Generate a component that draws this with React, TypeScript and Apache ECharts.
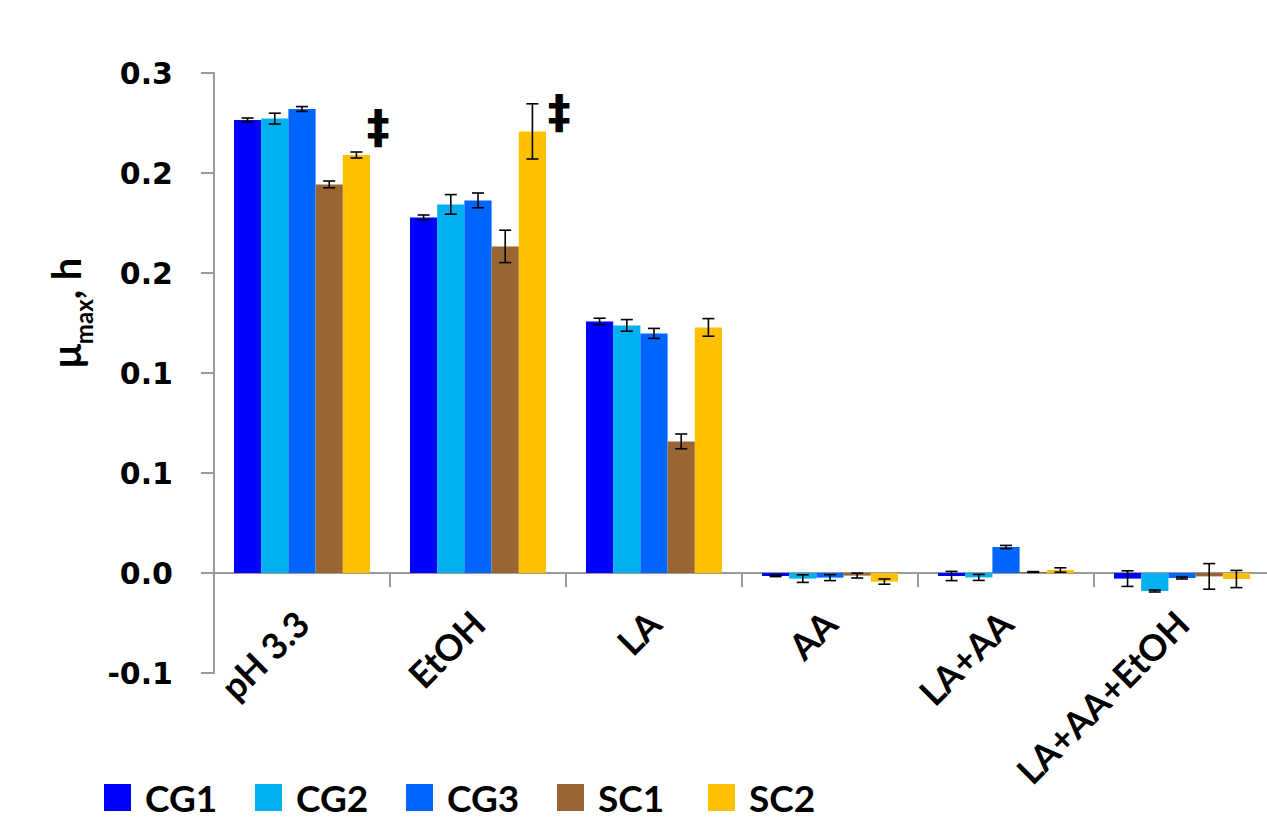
import React, { useEffect, useRef } from "react";
import * as echarts from "echarts";

const categories = ["pH 3.3", "EtOH", "LA", "AA", "LA+AA", "LA+AA+EtOH"];
const seriesNames = ["CG1", "CG2", "CG3", "SC1", "SC2"];
const colors = ["#0000FF", "#00B0F0", "#0066FF", "#996633", "#FFC000"];

const cg1 = [0.2265, 0.1778, 0.1258, -0.0015, -0.0015, -0.0028];
const cg1Err = [0.0010, 0.0012, 0.0016, 0.0003, 0.0023, 0.0039];
const cg2 = [0.2272, 0.1843, 0.1238, -0.0028, -0.0022, -0.0090];
const cg2Err = [0.0027, 0.0049, 0.0029, 0.0019, 0.0015, 0.0005];
const cg3 = [0.2320, 0.1863, 0.1198, -0.0023, 0.0130, -0.0025];
const cg3Err = [0.0012, 0.0037, 0.0025, 0.0015, 0.0008, 0.0005];
const sc1 = [0.1943, 0.1633, 0.0658, -0.0013, 0.0005, -0.0017];
const sc1Err = [0.0017, 0.0081, 0.0037, 0.0012, 0.0002, 0.0064];
const sc2 = [0.2090, 0.2208, 0.1228, -0.0043, 0.0015, -0.0030];
const sc2Err = [0.0015, 0.0138, 0.0044, 0.0013, 0.0011, 0.0043];

// tick labels as printed (values -0.05 .. 0.25 rounded to one decimal)
const yTickLabels = ["-0.1", "0.0", "0.1", "0.1", "0.2", "0.2", "0.3"];
const markedSC2 = [0, 1]; // categories flagged with ‡

const values = [cg1, cg2, cg3, sc1, sc2];
const errors = [cg1Err, cg2Err, cg3Err, sc1Err, sc2Err];

const GAP = 0.227;
const FONT = "Lato";

export default function App() {
  const ref = useRef<HTMLDivElement>(null);
  useEffect(() => {
    document.body.style.margin = "0";
    const chart = echarts.init(ref.current!, null, { renderer: "svg" });

    const barSeries = values.map((vals, si) => ({
      name: seriesNames[si],
      type: "bar",
      barGap: "0%",
      barCategoryGap: GAP * 100 + "%",
      itemStyle: { color: colors[si] },
      data: vals.map((v, ci) => {
        if (si === 4 && markedSC2.includes(ci)) {
          return {
            value: v,
            label: {
              show: true,
              formatter: "\u2021",
              position: ci === 0 ? [24, -51] : [29, -42],
              align: "left",
              verticalAlign: "top",
              fontSize: 46,
              fontWeight: "bold",
              fontFamily: "DejaVu Sans",
              color: "#000",
            },
          };
        }
        return v;
      }),
    }));

    const errData: number[][] = [];
    values.forEach((vals, si) => {
      vals.forEach((v, ci) => {
        errData.push([ci, v, errors[si][ci], si]);
      });
    });

    const errSeries = {
      type: "custom",
      name: "err",
      z: 10,
      encode: { x: 0, y: 1 },
      data: errData,
      renderItem: (params: any, api: any) => {
        const ci = api.value(0);
        const v = api.value(1);
        const e = api.value(2);
        const si = api.value(3);
        const band = api.size([1, 0])[0];
        const bw = (band * (1 - GAP)) / 5;
        const c = api.coord([ci, v]);
        const x = c[0] + (si - 2) * bw;
        const yT = api.coord([ci, v + e])[1];
        const yB = api.coord([ci, v - e])[1];
        const hw = 6;
        const style = { stroke: "#000", lineWidth: 1.6 };
        return {
          type: "group",
          children: [
            { type: "line", shape: { x1: x, y1: yT, x2: x, y2: yB }, style },
            { type: "line", shape: { x1: x - hw, y1: yT, x2: x + hw, y2: yT }, style },
            { type: "line", shape: { x1: x - hw, y1: yB, x2: x + hw, y2: yB }, style },
          ],
        };
      },
    };

    chart.setOption({
      animation: false,
      grid: { left: 214, top: 73, width: 1056, height: 600, containLabel: false, outerBoundsMode: "none" },
      legend: {
        data: seriesNames,
        left: 104,
        top: 779,
        icon: "rect",
        itemWidth: 27,
        itemHeight: 27,
        itemGap: 26,
        padding: 0,
        textStyle: {
          fontSize: 37,
          lineHeight: 27,
          height: 27,
          fontWeight: "bold",
          fontFamily: FONT,
          color: "#000",
          width: 84,
          padding: [0, 0, 0, 9],
        },
      },
      xAxis: {
        type: "category",
        data: categories,
        axisLine: { onZero: true, lineStyle: { color: "#9a9a9a", width: 2 } },
        axisTick: { show: true, length: 14, inside: false, lineStyle: { color: "#9a9a9a", width: 2 } },
        axisLabel: {
          rotate: 45,
          margin: -56,
          interval: 0,
          fontSize: 36,
          fontWeight: "bold",
          fontFamily: FONT,
          color: "#000",
        },
      },
      yAxis: {
        type: "value",
        min: -0.05,
        max: 0.25,
        interval: 0.05,
        splitLine: { show: false },
        axisLine: { show: true, lineStyle: { color: "#9a9a9a", width: 2 } },
        axisTick: { show: true, length: 13, lineStyle: { color: "#9a9a9a", width: 2 } },
        axisLabel: {
          margin: 41,
          fontSize: 30,
          fontWeight: "bold",
          fontFamily: "DejaVu Sans",
          color: "#000",
          formatter: (v: number) => yTickLabels[Math.round((v + 0.05) / 0.05)] ?? "",
        },
      },
      graphic: [
        {
          type: "text",
          x: 66,
          y: 313,
          rotation: Math.PI / 2,
          style: {
            text: "{mu|\u03bc}{sub|max}{n|, h}",
            align: "center",
            verticalAlign: "middle",
            rich: {
              mu: { fontSize: 40, fontWeight: "bold", fontFamily: FONT, fill: "#000", verticalAlign: "bottom" },
              sub: { fontSize: 24, fontWeight: "bold", fontFamily: FONT, fill: "#000", verticalAlign: "bottom", padding: [0, 0, -9, 0] },
              n: { fontSize: 40, fontWeight: "bold", fontFamily: FONT, fill: "#000", verticalAlign: "bottom" },
            },
          },
        },
      ],
      series: [...barSeries, errSeries],
    });
    return () => chart.dispose();
  }, []);
  return <div ref={ref} style={{ width: 1267, height: 819, position: "absolute", left: 0, top: 0 }} />;
}
